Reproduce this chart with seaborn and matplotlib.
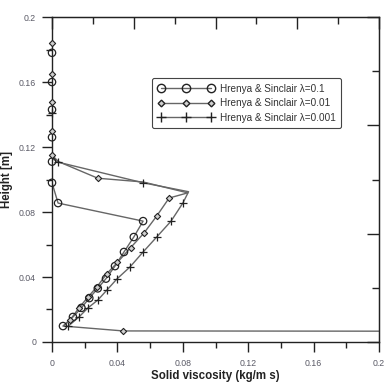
import matplotlib
matplotlib.use('Agg')
import matplotlib.pyplot as plt
from matplotlib.lines import Line2D
from matplotlib.ticker import MultipleLocator
import pandas as pd
import seaborn as sns

###
#   DATA
###
labels = ['Hrenya & Sinclair \u03bb=0.1',
          'Hrenya & Sinclair \u03bb=0.01',
          'Hrenya & Sinclair \u03bb=0.001']

# lambda = 0.1 : curve path and marker positions
path01_x = [0, 0, 0.0037, 0.0557, 0.050, 0.044, 0.0385, 0.033, 0.028, 0.0228, 0.018, 0.0128, 0.0067]
path01_y = [0.2, 0.098, 0.0855, 0.0744, 0.0646, 0.0554, 0.0467, 0.039, 0.033, 0.027, 0.021, 0.0154, 0.0098]
mark01_x = [0, 0, 0, 0, 0, 0, 0.0037, 0.0557, 0.050, 0.044, 0.0385, 0.033, 0.028, 0.0228, 0.018, 0.0128, 0.0067]
mark01_y = [0.178, 0.160, 0.143, 0.126, 0.111, 0.098, 0.0855, 0.0744, 0.0646, 0.0554, 0.0467, 0.039, 0.033, 0.027, 0.021, 0.0154, 0.0098]

# lambda = 0.01
path001_x = [0, 0, 0.004, 0.028, 0.0557, 0.083, 0.0716, 0.064, 0.0562, 0.048, 0.040, 0.0335, 0.0275, 0.022, 0.0165, 0.011, 0.007, 0.0435, 0.25]
path001_y = [0.2, 0.115, 0.111, 0.1008, 0.0985, 0.0918, 0.0886, 0.0775, 0.067, 0.058, 0.049, 0.042, 0.034, 0.0277, 0.021, 0.0135, 0.0098, 0.0068, 0.0066]
mark001_x = [0, 0, 0, 0, 0, 0.028, 0.0716, 0.064, 0.0562, 0.048, 0.040, 0.0335, 0.0275, 0.022, 0.0165, 0.011, 0.0435]
mark001_y = [0.184, 0.165, 0.148, 0.130, 0.115, 0.1008, 0.0886, 0.0775, 0.067, 0.058, 0.049, 0.042, 0.034, 0.0277, 0.021, 0.0135, 0.0068]

# lambda = 0.001
path0001_x = [0, 0, 0.0037, 0.0557, 0.0835, 0.080, 0.0728, 0.064, 0.0557, 0.0477, 0.0397, 0.0336, 0.028, 0.022, 0.0165, 0.010]
path0001_y = [0.2, 0.113, 0.1107, 0.098, 0.0925, 0.0855, 0.0744, 0.0646, 0.0554, 0.0462, 0.0388, 0.032, 0.0258, 0.021, 0.0154, 0.0098]
mark0001_x = [0, 0.0037, 0.0557, 0.080, 0.0728, 0.064, 0.0557, 0.0477, 0.0397, 0.0336, 0.028, 0.022, 0.0165, 0.010]
mark0001_y = [0.141, 0.1107, 0.098, 0.0855, 0.0744, 0.0646, 0.0554, 0.0462, 0.0388, 0.032, 0.0258, 0.021, 0.0154, 0.0098]

tick_vals = [0, 0.04, 0.08, 0.12, 0.16, 0.2]
tick_text = ['0', '0.04', '0.08', '0.12', '0.16', '0.2']

###
#   STYLE
###
sns.set_style('ticks')
plt.rcParams['font.family'] = ['Liberation Sans', 'DejaVu Sans']

line_color = '#666666'
mark_color = '#222222'
spine_color = '#222222'

series = [
    (path01_x, path01_y, mark01_x, mark01_y, dict(marker='o', s=28, facecolors='none', edgecolors=mark_color, linewidths=0.9)),
    (path001_x, path001_y, mark001_x, mark001_y, dict(marker='D', s=10, facecolors='#d0d0d0', edgecolors=mark_color, linewidths=0.8)),
    (path0001_x, path0001_y, mark0001_x, mark0001_y, dict(marker='+', s=36, color=mark_color, linewidths=0.9)),
]

fig = plt.figure(figsize=(3.92, 3.88), dpi=100)
ax = fig.add_axes([0.1327, 0.1186, 0.8343, 0.8374])

for px, py, mx, my, kw in series:
    path = pd.DataFrame({'x': px, 'y': py})
    marks = pd.DataFrame({'x': mx, 'y': my})
    sns.lineplot(data=path, x='x', y='y', sort=False, estimator=None,
                 color=line_color, linewidth=1.0, ax=ax)
    sns.scatterplot(data=marks, x='x', y='y', ax=ax, zorder=3, clip_on=False, **kw)

###
#   AXES
###
ax.set_xlim(0, 0.2)
ax.set_ylim(0, 0.2)
ax.set_xticks(tick_vals)
ax.set_yticks(tick_vals)
ax.set_xticklabels(tick_text)
ax.set_yticklabels(tick_text)
ax.xaxis.set_minor_locator(MultipleLocator(0.02))
ax.yaxis.set_minor_locator(MultipleLocator(0.02))

ax.tick_params(which='both', direction='out', labelsize=6.3, labelcolor='#5a5a66',
               color=spine_color, width=1.0)
ax.tick_params(which='major', length=7.5)
ax.tick_params(which='minor', length=4)
ax.tick_params(axis='x', pad=4.5)
ax.tick_params(axis='y', pad=4)

# inward ticks on top and right (own spacing, as in the original)
ax_top = ax.secondary_xaxis('top')
ax_top.set_xticks([0, 0.05, 0.1, 0.15, 0.2])
ax_top.xaxis.set_minor_locator(MultipleLocator(0.025))
ax_top.tick_params(which='both', direction='in', labeltop=False, color=spine_color, width=1.0)
ax_top.tick_params(which='major', length=8.5)
ax_top.tick_params(which='minor', length=5)
ax_right = ax.secondary_yaxis('right')
ax_right.set_yticks([0, 0.2 / 3, 0.4 / 3, 0.2])
ax_right.yaxis.set_minor_locator(MultipleLocator(0.2 / 6))
ax_right.tick_params(which='both', direction='in', labelright=False, color=spine_color, width=1.0)
ax_right.tick_params(which='major', length=9)
ax_right.tick_params(which='minor', length=5)

for sp in ax.spines.values():
    sp.set_visible(True)
    sp.set_linewidth(1.0)
    sp.set_color(spine_color)

ax.set_xlabel('Solid viscosity (kg/m s)', fontsize=8.3, fontweight='bold', color='#222222', labelpad=1.5)
ax.set_ylabel('Height [m]', fontsize=8.3, fontweight='bold', color='#222222', labelpad=4)

###
#   LEGEND
###
handles = [
    Line2D([], [], color=line_color, lw=1.0, marker='o', markersize=6, markerfacecolor='none', markeredgecolor=mark_color),
    Line2D([], [], color=line_color, lw=1.0, marker='D', markersize=3.4, markerfacecolor='#d0d0d0', markeredgecolor=mark_color),
    Line2D([], [], color=line_color, lw=1.0, marker='+', markersize=7, markeredgecolor=mark_color),
]
leg = ax.legend(handles, labels, numpoints=3, fontsize=7.2, loc='upper left',
                bbox_to_anchor=(0.306, 0.812), borderaxespad=0, frameon=True, fancybox=True,
                handlelength=5.6, handletextpad=0.6, labelspacing=0.45,
                borderpad=0.55, framealpha=1)
leg.get_frame().set_edgecolor('#444444')
leg.get_frame().set_linewidth(0.8)
for t in leg.get_texts():
    t.set_color('#333333')

plt.savefig('out.png', dpi=100)
